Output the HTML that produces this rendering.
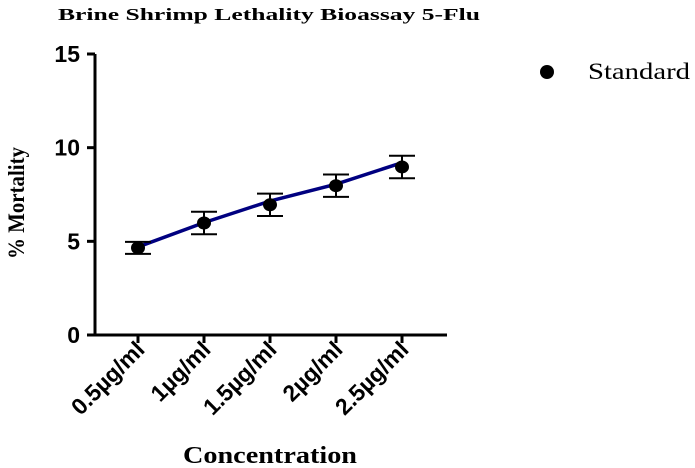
<!DOCTYPE html>
<html><head><meta charset="utf-8"><style>
body{margin:0;background:#fff;}
svg{display:block;}
</style></head><body>
<svg id="chart" width="695" height="468">
<text x="58" y="20" textLength="422" lengthAdjust="spacingAndGlyphs" font-family="Liberation Serif, serif" font-weight="bold" font-size="17">Brine Shrimp Lethality Bioassay 5-Flu</text>
<text transform="translate(24,259) rotate(-90)" textLength="112" lengthAdjust="spacingAndGlyphs" font-family="Liberation Serif, serif" font-weight="bold" font-size="23">% Mortality</text>
<text x="183" y="463" textLength="174" lengthAdjust="spacingAndGlyphs" font-family="Liberation Serif, serif" font-weight="bold" font-size="24">Concentration</text>
<circle cx="547" cy="72" r="7" fill="#000"/>
<text x="588" y="79" textLength="102" lengthAdjust="spacingAndGlyphs" font-family="Liberation Serif, serif" font-size="23">Standard</text>
<g id="plot"></g>
</svg>
<script>
const categories=["0.5µg/ml","1µg/ml","1.5µg/ml","2µg/ml","2.5µg/ml"];
const means=[4.65,5.98,6.95,7.97,8.97];
const errors=[0.32,0.6,0.6,0.6,0.6];
const lineValues=[4.7,6.0,7.15,8.05,9.2];
const yTicks=[0,5,10,15];
const ns="http://www.w3.org/2000/svg";
const g=document.getElementById('plot');
const x0=95,x1=447,yBase=335,yTop=54;
const y=v=>yBase-(v/15)*(yBase-yTop);
const x=i=>138+i*66;
function mk(t,a){const e=document.createElementNS(ns,t);for(const k in a)e.setAttribute(k,a[k]);g.appendChild(e);return e;}
let e=mk('line',{x1:x0,y1:yTop,x2:x0,y2:yBase+1.5,stroke:'#000','stroke-width':3});


e=mk('line',{x1:x0-1.5,y1:yBase,x2:x1,y2:yBase,stroke:'#000','stroke-width':3});


yTicks.forEach(v=>{
 e=mk('line',{x1:x0-8,y1:y(v),x2:x0,y2:y(v),stroke:'#000','stroke-width':3});
 
 
 e=mk('text',{x:x0-15,y:y(v)+8,'text-anchor':'end','font-family':'Liberation Sans, sans-serif','font-weight':'bold','font-size':23});
 e.textContent=v;
 
 
});
categories.forEach((c,i)=>{
 e=mk('line',{x1:x(i),y1:yBase,x2:x(i),y2:yBase+8,stroke:'#000','stroke-width':3});
 
 
 e=mk('text',{transform:`translate(${x(i)+8},${yBase+16}) rotate(-45)`,'text-anchor':'end','font-family':'Liberation Sans, sans-serif','font-weight':'bold','font-size':23});
 e.textContent=c;
 
 
});
e=mk('polyline',{points:lineValues.map((v,i)=>x(i)+','+y(v)).join(' '),fill:'none',stroke:'#000080','stroke-width':3.5});


means.forEach((m,i)=>{
 const t=y(m+errors[i]),b=y(m-errors[i]);
 e=mk('path',{d:`M${x(i)},${t}V${b}M${x(i)-13},${t}H${x(i)+13}M${x(i)-13},${b}H${x(i)+13}`,stroke:'#000','stroke-width':2,fill:'none'});
 
 
 e=mk('ellipse',{cx:x(i),cy:y(m),rx:7,ry:6.5,fill:'#000'});
 
 
});
</script>
</body></html>
